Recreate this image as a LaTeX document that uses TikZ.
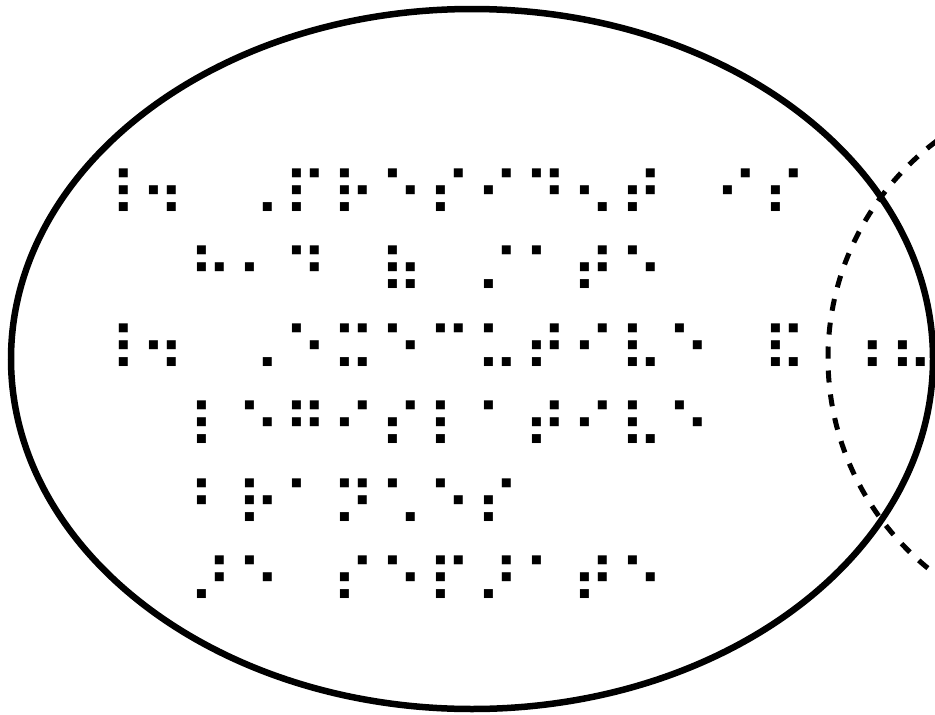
\documentclass[tikz,border=0pt]{standalone}
\usepackage{fontspec}
\newfontfamily\braille{DejaVu Sans}

% one braille cell per fixed-width box
\newlength\cellw
\setlength\cellw{47.9pt}
\def\brlrow#1{\brlnext#1\relax}
\def\brlnext#1{\ifx#1\relax\else\makebox[\cellw]{#1}\expandafter\brlnext\fi}

\begin{document}
\begin{tikzpicture}[
        x=1pt, y=-1pt,
        setA/.style={draw, line width=6.5pt},
        setB/.style={draw, line width=5pt, dash pattern=on 12pt off 12pt},
        brl/.style={anchor=base west, inner sep=0pt, font=\braille\fontsize{61}{61}\selectfont}
    ]
        \useasboundingbox (0,0) rectangle (935,715);
        \path[setA] (472,359) ellipse [x radius=461pt, y radius=350pt];
        \path[setB] (1099,358) circle [radius=271pt];

        \node[brl] (line1) at (90.6,216.2) {\brlrow{⠸⠲⠀⠠⠏⠗⠑⠎⠊⠙⠢⠞⠀⠊⠎}};
        \node[brl] (line2) at (90.6,293.7) {\brlrow{⠀⠀⠓⠂⠙⠀⠷⠀⠌⠁⠞⠑}};
        \node[brl] (line3) at (90.6,371.1) {\brlrow{⠸⠲⠀⠠⠑⠭⠑⠉⠥⠞⠊⠧⠑⠀⠯}};
        \node[brl] (line4) at (90.6,448.6) {\brlrow{⠀⠀⠇⠑⠛⠊⠎⠇⠁⠞⠊⠧⠑}};
        \node[brl] (line5) at (90.6,526.0) {\brlrow{⠀⠀⠃⠗⠁⠝⠡⠑⠎}};
        \node[brl] (line6) at (90.6,603.5) {\brlrow{⠀⠀⠜⠑⠀⠎⠑⠏⠜⠁⠞⠑}};
        \node[brl] (both) at (841.7,371.1) {⠰\hspace{2.9pt}⠦};
    \end{tikzpicture}
\end{document}
